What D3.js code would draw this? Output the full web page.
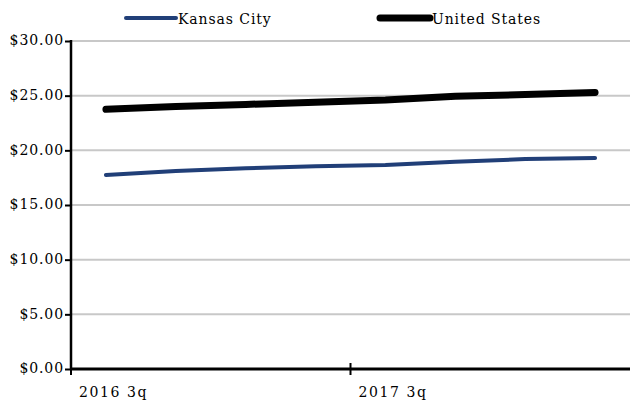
<!DOCTYPE html>
<html>
<head>
<meta charset="utf-8">
<script src="https://cdn.jsdelivr.net/npm/d3@7"></script>
<style>
  body { margin: 0; background: #fff; }
  svg { display: block; font-family: "DejaVu Serif", serif; }
</style>
</head>
<body>
<div id="chart"></div>
<script>
// données
const quarters = ["2016 3q", "2016 4q", "2017 1q", "2017 2q", "2017 3q", "2017 4q", "2018 1q", "2018 2q"];
const kansasCity = [17.75, 18.1, 18.35, 18.55, 18.65, 18.95, 19.2, 19.3];
const unitedStates = [23.75, 24.0, 24.2, 24.4, 24.6, 24.95, 25.1, 25.3];
const yTicks = [0, 5, 10, 15, 20, 25, 30];
const xTickLabels = ["2016 3q", "2017 3q"];

const width = 630, height = 403;
const margin = { top: 41, right: 0, bottom: 34, left: 71 };

const svg = d3.select('#chart').append('svg')
    .attr('width', width)
    .attr('height', height);

const x = d3.scaleBand()
    .domain(quarters)
    .range([margin.left, width - margin.right]);

const y = d3.scaleLinear()
    .domain([0, 30])
    .range([height - margin.bottom, margin.top]);

// grille
svg.append('g')
    .selectAll('line')
    .data(yTicks.filter(d => d > 0))
    .enter().append('line')
    .attr('x1', margin.left)
    .attr('x2', width - margin.right)
    .attr('y1', d => y(d))
    .attr('y2', d => y(d))
    .attr('stroke', '#c8c8c8')
    .attr('stroke-width', 2);

// axe y
const yAxis = d3.axisLeft(y)
    .tickValues(yTicks)
    .tickSize(6)
    .tickPadding(1)
    .tickFormat(d => '$' + d.toFixed(2));

const gy = svg.append('g')
    .attr('transform', `translate(${margin.left},0)`)
    .call(yAxis);
gy.select('.domain').remove();
gy.selectAll('.tick line').attr('stroke', '#000').attr('stroke-width', 2);
gy.selectAll('.tick text')
    .attr('fill', '#000')
    .attr('dy', '0.28em')
    .style('font-size', '14px')
    .style('letter-spacing', '0.9px')
    .style('font-family', '"DejaVu Serif", serif');
gy.append('line')
    .attr('x1', 0).attr('x2', 0)
    .attr('y1', y(30) - 1).attr('y2', y(0))
    .attr('stroke', '#000').attr('stroke-width', 2.5);

// axe x
const gx = svg.append('g');
gx.append('line')
    .attr('x1', margin.left)
    .attr('x2', width - margin.right)
    .attr('y1', y(0))
    .attr('y2', y(0))
    .attr('stroke', '#000')
    .attr('stroke-width', 3);

gx.selectAll('.xtick')
    .data(xTickLabels)
    .enter().append('line')
    .attr('class', 'xtick')
    .attr('x1', d => x(d))
    .attr('x2', d => x(d))
    .attr('y1', y(0) - 6)
    .attr('y2', y(0) + 6)
    .attr('stroke', '#000')
    .attr('stroke-width', 2);

gx.selectAll('.xlabel')
    .data(xTickLabels)
    .enter().append('text')
    .attr('class', 'xlabel')
    .attr('x', d => x(d) + 8)
    .attr('y', y(0) + 28)
    .style('font-size', '14px')
    .style('letter-spacing', '1.6px')
    .text(d => d);

// lignes
const line = d3.line()
    .x((d, i) => x(quarters[i]) + x.bandwidth() / 2)
    .y(d => y(d));

const series = [
    { name: "Kansas City", values: kansasCity, color: "#213f78", width: 4 },
    { name: "United States", values: unitedStates, color: "#000000", width: 7 }
];

svg.append('g')
    .selectAll('path')
    .data(series)
    .enter().append('path')
    .attr('d', d => line(d.values))
    .attr('fill', 'none')
    .attr('stroke', d => d.color)
    .attr('stroke-width', d => d.width)
    .attr('stroke-linecap', 'round')
    .attr('stroke-linejoin', 'round');

// légende
const legendX = [126, 380];
const legend = svg.append('g')
    .selectAll('g')
    .data(series)
    .enter().append('g')
    .attr('transform', (d, i) => `translate(${legendX[i]},0)`);

legend.append('line')
    .attr('x1', 0)
    .attr('x2', 50)
    .attr('y1', 18)
    .attr('y2', 18)
    .attr('stroke', d => d.color)
    .attr('stroke-width', d => d.width)
    .attr('stroke-linecap', 'round');

legend.append('text')
    .attr('x', 52)
    .attr('y', 24)
    .style('font-size', '14px')
    .style('letter-spacing', '0.9px')
    .text(d => d.name);
</script>
</body>
</html>
